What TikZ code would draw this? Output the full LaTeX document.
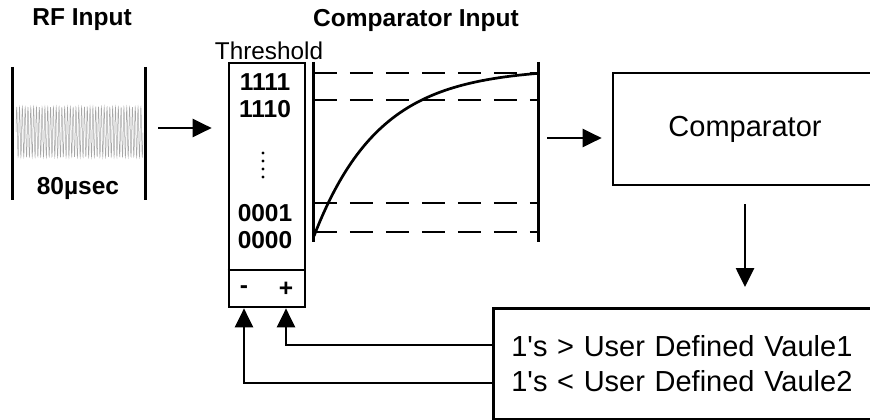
\documentclass[tikz,border=0pt]{standalone}
\usepackage{fontspec}
\setmainfont{Liberation Sans}[Ligatures=TeXOff]
\usetikzlibrary{arrows.meta}

\newcommand{\boldtext}{\fontsize{24.5}{29}\selectfont\bfseries}
\newcommand{\plaintext}{\fontsize{29}{35}\selectfont}

\begin{document}
\begin{tikzpicture}[x=1pt,y=-1pt]
     % Define styles
     \tikzstyle{line} = [line width=2.7pt]
     \tikzstyle{arrow} = [line width=2.7pt, -{Triangle[length=19pt,width=18pt]}]
     \tikzstyle{box} = [draw, line width=2.7pt, inner sep=0pt]
     \tikzstyle{level} = [line width=2.7pt, dash pattern=on 23pt off 13pt]
     \tikzstyle{bits} = [font=\boldtext, inner sep=0pt]

     \useasboundingbox (0,0) rectangle (870,420);

     % Titles
     \node[bits] (rftitle) at (82,20) {RF Input};
     \node[bits] (cmptitle) at (416,20) {Comparator Input};

     % RF burst
     \node[inner sep=0pt, minimum width=132pt, minimum height=133pt] (rf) at (79,133.5) {};
     \draw[line] (rf.north west) -- (rf.south west);
     \draw[line] (rf.north east) -- (rf.south east);
     \draw[gray!70, line width=0.5pt] plot[domain=0:127, samples=800] ({16+\x}, {132-25*sin(\x*127.56)});
     \node[bits] (dur) at (78,188) {80µsec};

     % Threshold register
     \node[font=\fontsize{24.3}{29}\selectfont, inner sep=0pt] (thr) at (269,51) {Threshold};
     \node[box, minimum width=76pt, minimum height=244pt] (reg) at (267,185) {};
     \draw[line] (reg.west |- 0,270) -- (reg.east |- 0,270);
     \node[bits] (b1111) at (265,82) {1111};
     \node[bits] (b1110) at (265,109) {1110};
     \node[bits] (b0001) at (265,213) {0001};
     \node[bits] (b0000) at (265,240) {0000};
     \foreach \y in {153,161,169,177} {
          \fill (263,\y) circle (1.6pt);
     }
     \node[bits] (minus) at (244,290) {-};
     \node[bits] (plus) at (286,289) {+};

     % Comparator input levels
     \node[inner sep=0pt, minimum width=224pt, minimum height=180pt] (graph) at (426,152) {};
     \draw[line] (graph.north west) -- (graph.south west);
     \draw[line] (graph.north east) -- (graph.south east);
     \foreach \y in {73,100,203,232} {
          \draw[level] (graph.west |- 0,\y) -- (graph.east |- 0,\y);
     }
     \draw[line] plot[domain=0:224, samples=80] ({314+\x}, {236-168*(1-exp(-\x/65))});

     % Comparator
     \node[box, minimum width=264pt, minimum height=112pt, font=\plaintext] (comp) at (745,129) {Comparator};

     % Decision box
     \node[box, anchor=north west, minimum height=111pt, text width=364pt, inner xsep=18pt, align=left, font=\plaintext] (logic) at (492,307) {1's > User Defined Vaule1\\1's < User Defined Vaule2};

     % Arrows
     \draw[arrow, shorten <=13pt, shorten >=16pt] (rf.east |- 0,128) -- (reg.west |- 0,128);
     \draw[arrow, shorten <=9pt, shorten >=10pt] (graph.east |- 0,138) -- (comp.west |- 0,138);
     \draw[arrow, shorten <=18pt, shorten >=20pt] (comp.south) -- (comp.south |- logic.north);
     \draw[arrow] (logic.west |- 0,345) -| (plus |- reg.south);
     \draw[arrow] (logic.west |- 0,383) -| (minus |- reg.south);

\end{tikzpicture}
\end{document}
